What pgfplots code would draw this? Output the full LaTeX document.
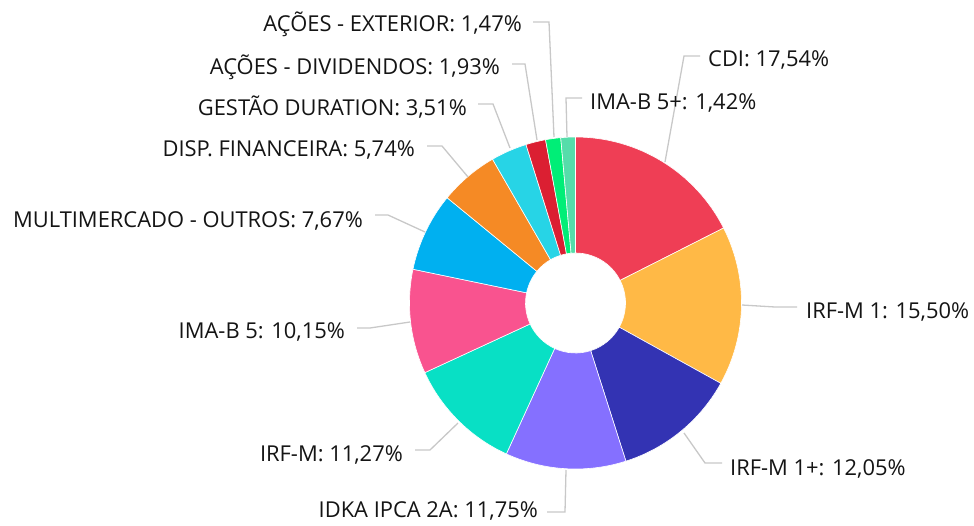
\documentclass[border=0pt]{standalone}
\usepackage{pgfplots}
\pgfplotsset{compat=1.18}
\usepackage{fontspec}
\setmainfont{Open Sans}
\definecolor{cCDI}{HTML}{EF3E55}
\definecolor{cIRFMa}{HTML}{FFB946}
\definecolor{cIRFMb}{HTML}{3333B3}
\definecolor{cIDKA}{HTML}{8570FF}
\definecolor{cIRFM}{HTML}{08E0C5}
\definecolor{cIMAB}{HTML}{F9538F}
\definecolor{cMULTI}{HTML}{00B0F0}
\definecolor{cDISP}{HTML}{F58A25}
\definecolor{cGEST}{HTML}{27D4E6}
\definecolor{cDIV}{HTML}{DB1F32}
\definecolor{cEXT}{HTML}{00EE77}
\definecolor{cIMABp}{HTML}{55DDAA}
\definecolor{leader}{HTML}{C8C8C8}
\definecolor{txt}{HTML}{141414}
\tikzset{lbl/.style={inner sep=0pt, text=txt, font=\fontsize{21.9bp}{26bp}\selectfont},
  ld/.style={draw=leader, line width=1.3bp}}
% \slice{cumulative start %}{value %}{colour}
\newcommand{\slice}[3]{%
  \fill[#3, draw=white, line width=0.6bp]
    ([shift={({90-3.6*#1}:166bp)}]c)
    arc[start angle={90-3.6*#1}, delta angle={-3.6*#2}, radius=166bp]
    -- ([shift={({90-3.6*(#1+#2)}:50bp)}]c)
    arc[start angle={90-3.6*(#1+#2)}, delta angle={3.6*#2}, radius=50bp]
    -- cycle;}
\begin{document}
\begin{tikzpicture}
\begin{axis}[hide axis, scale only axis, width=974bp, height=526bp,
  xmin=0, xmax=974, ymin=0, ymax=526, y dir=reverse, clip=false]
\path (axis cs:0,0) rectangle (axis cs:974,526);
\coordinate (c) at (axis cs:575.5,303);
\slice{0}{17.54}{cCDI}
\slice{17.54}{15.50}{cIRFMa}
\slice{33.04}{12.05}{cIRFMb}
\slice{45.09}{11.75}{cIDKA}
\slice{56.84}{11.27}{cIRFM}
\slice{68.11}{10.15}{cIMAB}
\slice{78.26}{7.67}{cMULTI}
\slice{85.93}{5.74}{cDISP}
\slice{91.67}{3.51}{cGEST}
\slice{95.18}{1.93}{cDIV}
\slice{97.11}{1.47}{cEXT}
\slice{98.58}{1.42}{cIMABp}
% leader lines
\draw[ld] (axis cs:665,162) -- (axis cs:684,56) -- (axis cs:700,56);
\draw[ld] (axis cs:567,137) -- (axis cs:566,98) -- (axis cs:582,98);
\draw[ld] (axis cs:554,137) -- (axis cs:549,22) -- (axis cs:533,22);
\draw[ld] (axis cs:537,140) -- (axis cs:525,64) -- (axis cs:512,64);
\draw[ld] (axis cs:510,148) -- (axis cs:493,104) -- (axis cs:478,104);
\draw[ld] (axis cs:468,177) -- (axis cs:442,146) -- (axis cs:427,146);
\draw[ld] (axis cs:425,232) -- (axis cs:388,215) -- (axis cs:375,215);
\draw[ld] (axis cs:410,322) -- (axis cs:370,328) -- (axis cs:357,328);
\draw[ld] (axis cs:458,423) -- (axis cs:430,450) -- (axis cs:415,450);
\draw[ld] (axis cs:566,470) -- (axis cs:565,512) -- (axis cs:547,512);
\draw[ld] (axis cs:684,433) -- (axis cs:705,463) -- (axis cs:722,463);
\draw[ld] (axis cs:742,305) -- (axis cs:775,307) -- (axis cs:797,307);
% labels
\node[lbl, anchor=base west] at (axis cs:708,67) {CDI: 17,54\%};
\node[lbl, anchor=base west] at (axis cs:590,109) {IMA-B 5+: 1,42\%};
\node[lbl, anchor=base west] at (axis cs:806,318) {IRF-M 1: 15,50\%};
\node[lbl, anchor=base west] at (axis cs:730,475) {IRF-M 1+: 12,05\%};
\node[lbl, anchor=base east] at (axis cs:522,32) {AÇÕES - EXTERIOR: 1,47\%};
\node[lbl, anchor=base east] at (axis cs:500,75) {AÇÕES - DIVIDENDOS: 1,93\%};
\node[lbl, anchor=base east] at (axis cs:467,115) {GESTÃO DURATION: 3,51\%};
\node[lbl, anchor=base east] at (axis cs:415,156) {DISP. FINANCEIRA: 5,74\%};
\node[lbl, anchor=base east] at (axis cs:363,227) {MULTIMERCADO - OUTROS: 7,67\%};
\node[lbl, anchor=base east] at (axis cs:345,338) {IMA-B 5: 10,15\%};
\node[lbl, anchor=base east] at (axis cs:403,461) {IRF-M: 11,27\%};
\node[lbl, anchor=base east] at (axis cs:538,517) {IDKA IPCA 2A: 11,75\%};
\end{axis}
\end{tikzpicture}
\end{document}
